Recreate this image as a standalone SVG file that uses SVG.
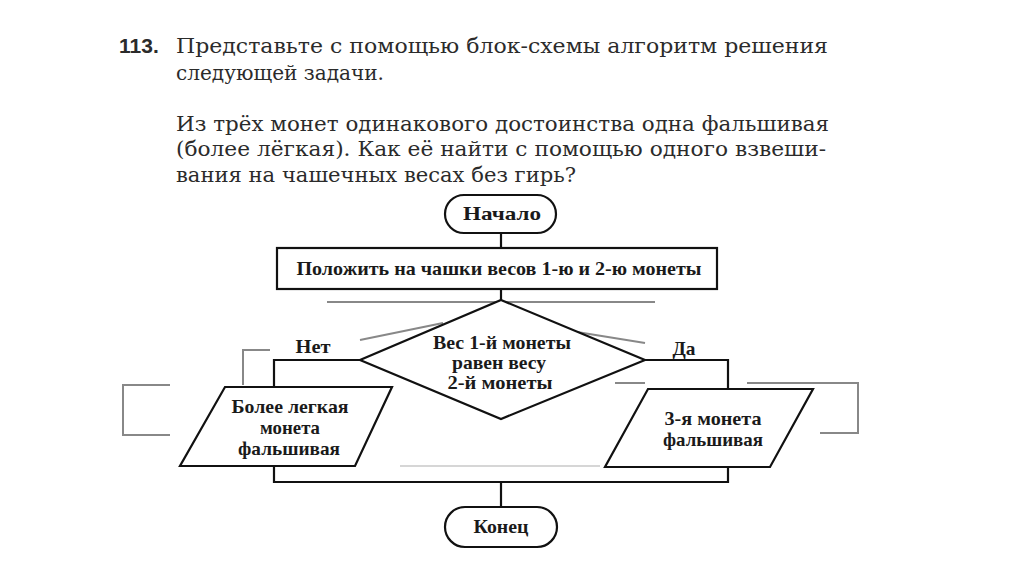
<svg xmlns="http://www.w3.org/2000/svg" width="1024" height="574" viewBox="0 0 1024 574">
<style>
.hdr{font-family:"DejaVu Serif","Liberation Serif",serif;font-size:20px;font-weight:normal;fill:#2b2b2b}
.num{font-family:"Liberation Sans","DejaVu Sans",sans-serif;font-size:21px;font-weight:bold;fill:#2b2b2b}
.lbl{font-family:"Liberation Serif","DejaVu Serif",serif;font-size:19px;font-weight:bold;fill:#1a1a1a;text-anchor:middle}
.shape{fill:#fff;stroke:#111;stroke-width:2.2}
.conn{fill:none;stroke:#111;stroke-width:2.2}
.ghost{fill:none;stroke:#888;stroke-width:2}
.faint{fill:none;stroke:#c8c8c8;stroke-width:1.5}
</style>
<rect width="1024" height="574" fill="#fff"/>
<g id="header">
<text class="num" x="119" y="53">113.</text>
<text class="hdr" x="176" y="53" textLength="652" lengthAdjust="spacingAndGlyphs">Представьте с помощью блок-схемы алгоритм решения</text>
<text class="hdr" x="176" y="80" textLength="208" lengthAdjust="spacingAndGlyphs">следующей задачи.</text>
<text class="hdr" x="176" y="131" textLength="653" lengthAdjust="spacingAndGlyphs">Из трёх монет одинакового достоинства одна фальшивая</text>
<text class="hdr" x="176" y="156" textLength="650" lengthAdjust="spacingAndGlyphs">(более лёгкая). Как её найти с помощью одного взвеши-</text>
<text class="hdr" x="176" y="182" textLength="400" lengthAdjust="spacingAndGlyphs">вания на чашечных весах без гирь?</text>
</g>
<g id="artifacts">
<line class="ghost" x1="327" y1="302" x2="655" y2="302"/>
<line class="ghost" x1="360" y1="340" x2="443" y2="323"/>
<line class="ghost" x1="577" y1="332" x2="645" y2="343"/>
<polyline class="ghost" points="270,350 243,350 243,385"/>
<polyline class="ghost" points="170,385 123,385 123,435 170,435"/>
<polyline class="ghost" points="747,383 858,383 858,433 820,433"/>
<line class="ghost" x1="615" y1="383" x2="645" y2="383"/>
<line class="faint" x1="400" y1="466" x2="600" y2="466"/>
</g>
<g id="connectors">
<line class="conn" x1="501" y1="233" x2="501" y2="248"/>
<line class="conn" x1="501" y1="289" x2="501" y2="300"/>
<polyline class="conn" points="360,360 274,360 274,387"/>
<polyline class="conn" points="645,360 728,360 728,389"/>
<polyline class="conn" points="274,466 274,482 728,482 728,467"/>
<line class="conn" x1="501" y1="482" x2="501" y2="507"/>
<text class="lbl" x="313" y="353" textLength="35" lengthAdjust="spacingAndGlyphs">Нет</text>
<text class="lbl" x="684" y="355" textLength="23" lengthAdjust="spacingAndGlyphs">Да</text>
</g>
<g id="start">
<rect class="shape" x="445" y="195" width="111" height="38" rx="19"/>
<text class="lbl" x="502" y="220" textLength="78" lengthAdjust="spacingAndGlyphs">Начало</text>
</g>
<g id="process">
<rect class="shape" x="277" y="248" width="440" height="41"/>
<text class="lbl" x="499" y="275" textLength="405" lengthAdjust="spacingAndGlyphs">Положить на чашки весов 1-ю и 2-ю монеты</text>
</g>
<g id="decision">
<polygon class="shape" points="501,300 645,360 501,419 360,360"/>
<text class="lbl" x="502" y="349" textLength="138" lengthAdjust="spacingAndGlyphs">Вес 1-й монеты</text>
<text class="lbl" x="499" y="369" textLength="94" lengthAdjust="spacingAndGlyphs">равен весу</text>
<text class="lbl" x="500" y="389" textLength="105" lengthAdjust="spacingAndGlyphs">2-й монеты</text>
</g>
<g id="out-no">
<polygon class="shape" points="225,387 392,387 355,466 180,466"/>
<text class="lbl" x="290" y="413" textLength="117" lengthAdjust="spacingAndGlyphs">Более легкая</text>
<text class="lbl" x="290" y="434" textLength="60" lengthAdjust="spacingAndGlyphs">монета</text>
<text class="lbl" x="289" y="455" textLength="102" lengthAdjust="spacingAndGlyphs">фальшивая</text>
</g>
<g id="out-yes">
<polygon class="shape" points="648,389 813,389 770,467 605,467"/>
<text class="lbl" x="713" y="425" textLength="97" lengthAdjust="spacingAndGlyphs">3-я монета</text>
<text class="lbl" x="713" y="446" textLength="100" lengthAdjust="spacingAndGlyphs">фальшивая</text>
</g>
<g id="end">
<rect class="shape" x="445" y="507" width="112" height="40" rx="20"/>
<text class="lbl" x="501" y="533" textLength="55" lengthAdjust="spacingAndGlyphs">Конец</text>
</g>
</svg>
